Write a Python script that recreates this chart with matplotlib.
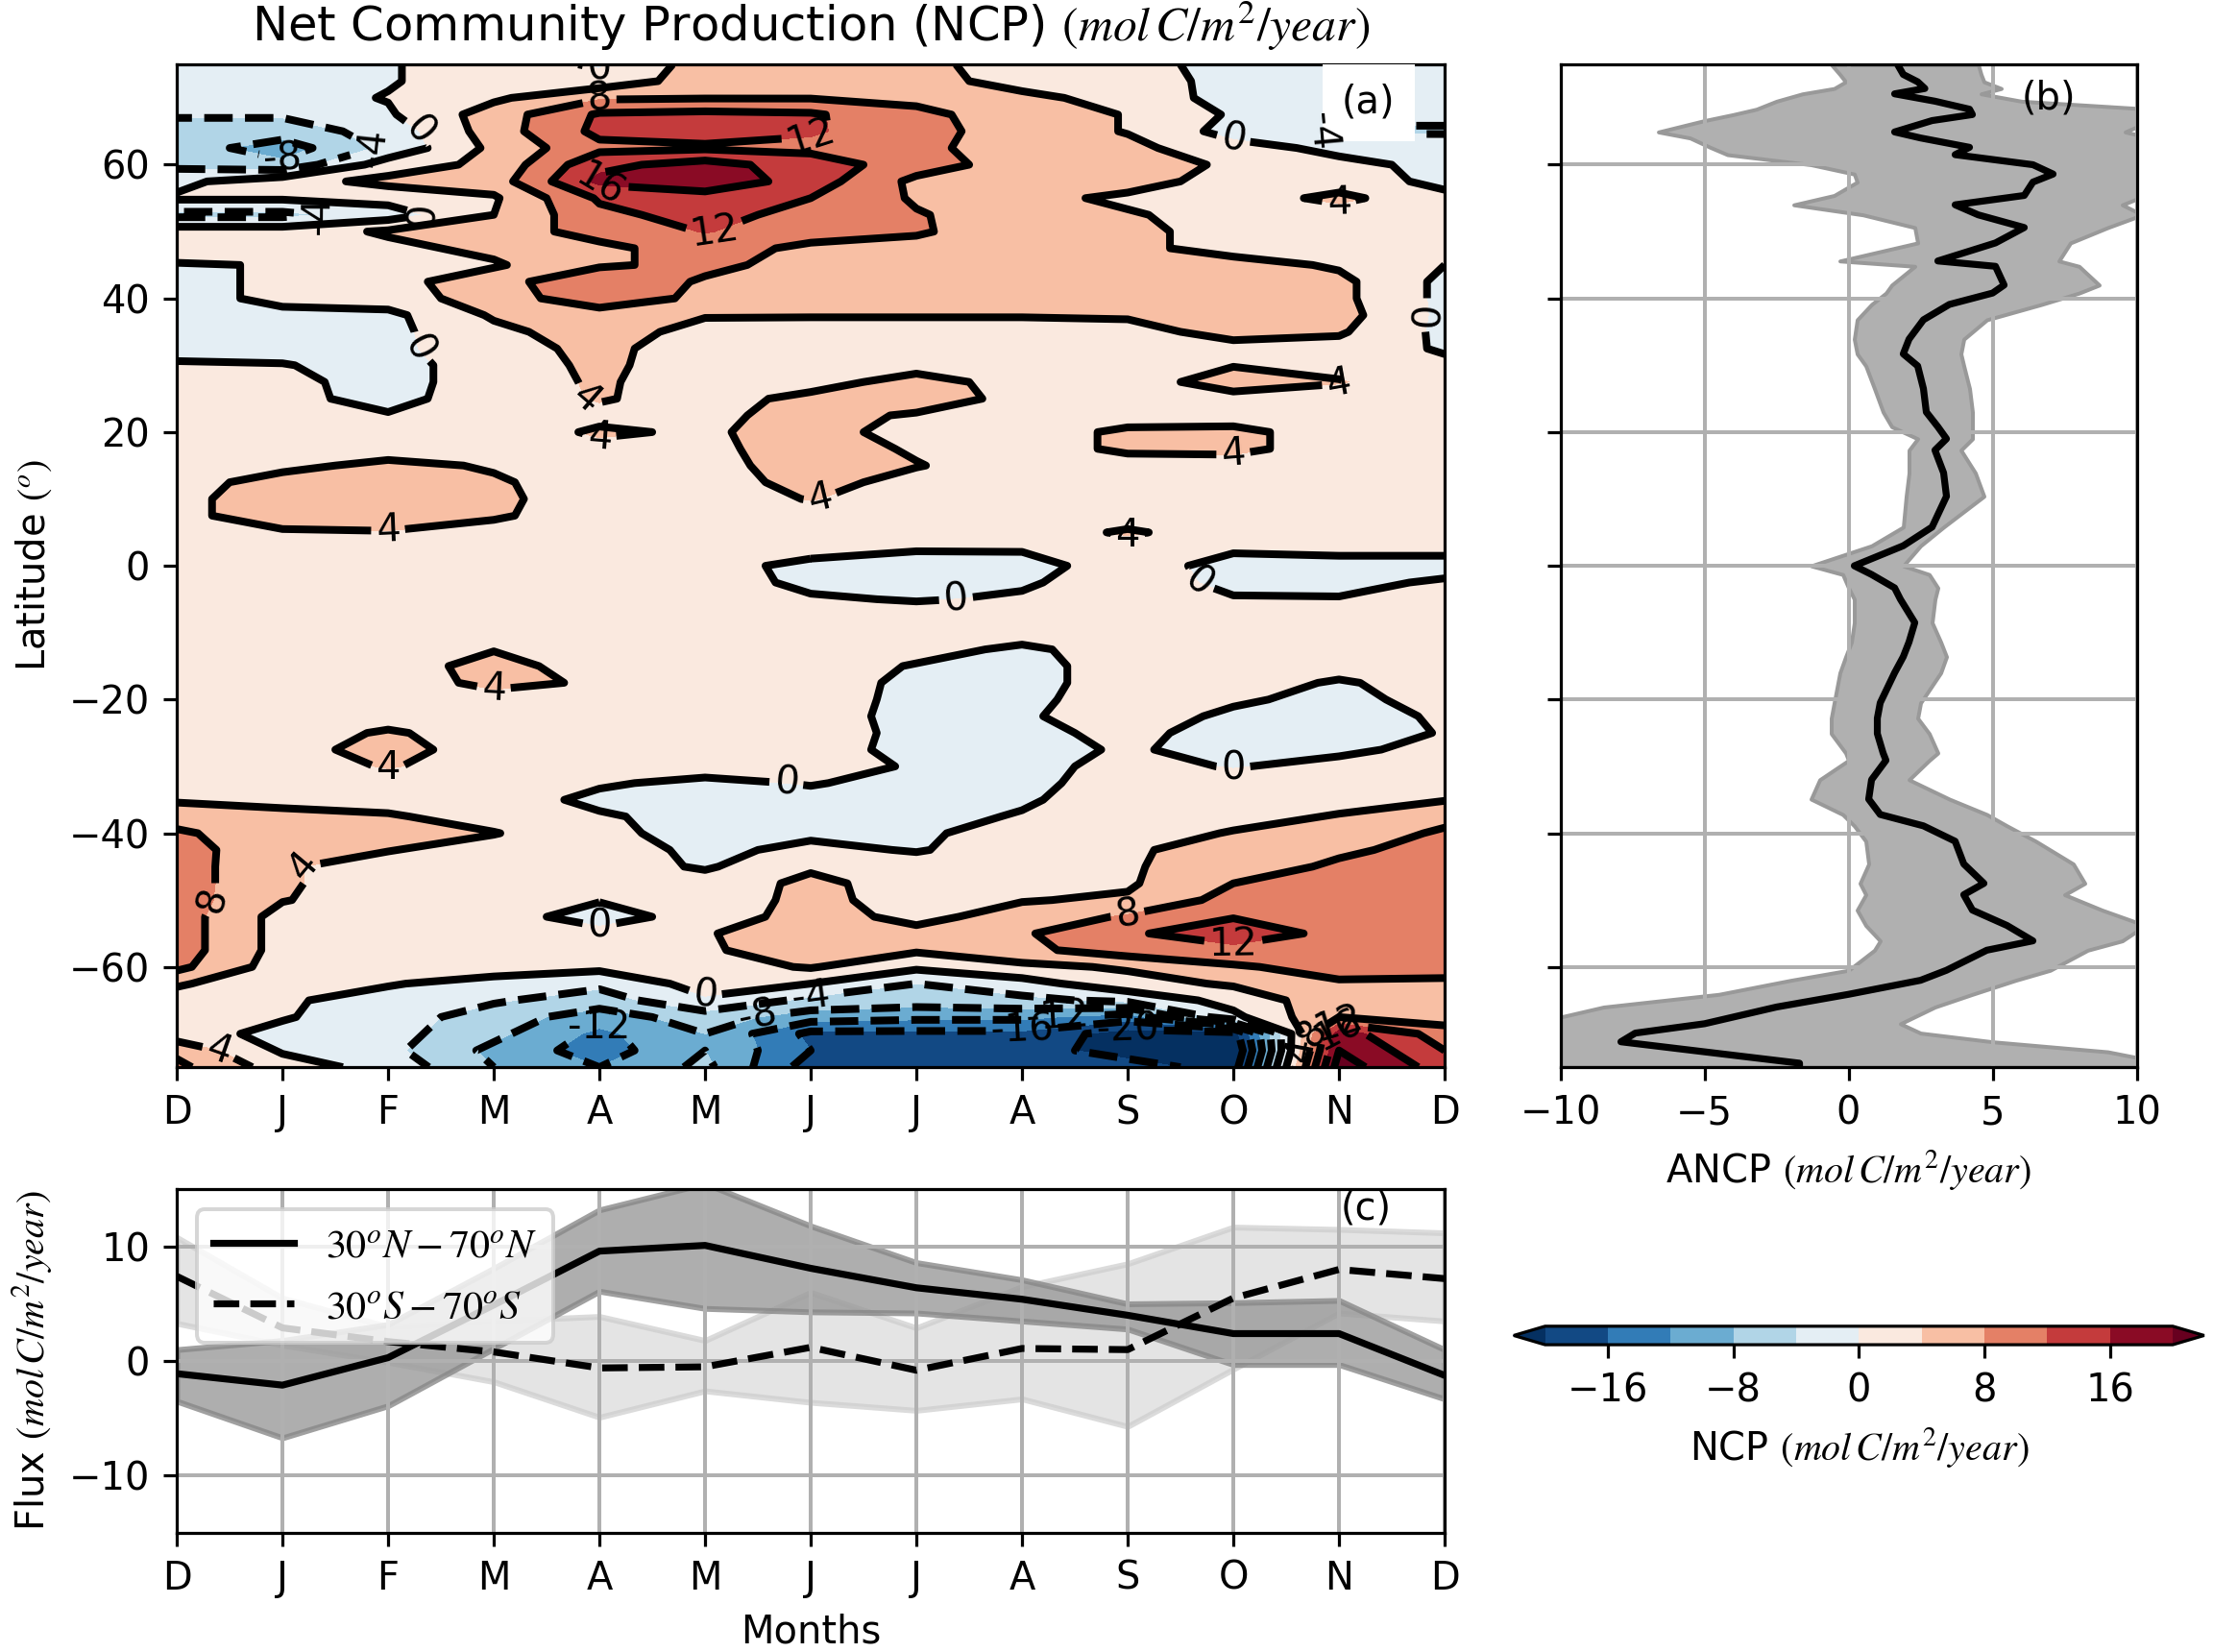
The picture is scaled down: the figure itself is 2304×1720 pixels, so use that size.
import numpy as np
import matplotlib
matplotlib.use("Agg")
import matplotlib.pyplot as plt

plt.rcParams['font.family'] = ['DejaVu Sans']
plt.rcParams['mathtext.fontset'] = 'stix'
plt.rcParams['font.size'] = 10

# ---------------- data ----------------
month_labels = ['D', 'J', 'F', 'M', 'A', 'M', 'J', 'J', 'A', 'S', 'O', 'N', 'D']
months = [0, 1, 2, 3, 4, 5, 6, 7, 8, 9, 10, 11, 12]

# latitude rows of the NCP field (north -> south)
lat_rows = [75, 72.5, 70, 67.5, 65, 62.5, 60, 57.5, 55, 52.5, 50, 47.5, 45, 42.5, 40,
            37.5, 35, 32.5, 30, 27.5, 25, 22.5, 20, 17.5, 15, 12.5, 10, 7.5, 5, 2.5, 0,
            -2.5, -5, -7.5, -10, -12.5, -15, -17.5, -20, -22.5, -25, -27.5, -30, -32.5,
            -35, -37.5, -40, -42.5, -45, -47.5, -50, -52.5, -55, -57.5, -60, -62.5, -65,
            -67.5, -70, -72.5, -75]

# NCP (mol C/m2/year) by month (D J F M A M J J A S O N D) for each latitude row
r_n75_0 = [-2, -2, -0.3, 2, -0.5, 6, 6, 5.2, 2, 1, -1, -1, -1]
r_n72_5 = [-2, -2, -0.3, 2, 1.5, 6, 6, 5.5, 2.5, 1.5, -1, -1, -1]
r_n70_0 = [-2, -1.5, 0.2, 3.3, 7.5, 7.8, 7.8, 7, 5, 2.5, -1.5, -2, -2]
r_n67_5 = [-3.5, -3.5, -0.5, 5.9, 12.5, 13, 12.5, 9, 6, 3.8, -0.5, -3, -3]
r_n65_0 = [-6, -6, -2.5, 6, 13, 13.5, 12.5, 9.5, 6, 3.8, -1.5, -4.5, -4.5]
r_n62_5 = [-6, -10, -3, 5, 11, 11.5, 11, 9, 6, 5, 1.5, -1, -1.5]
r_n60_0 = [-5, -7, 2, 5, 15, 17.5, 14, 10, 6, 5.5, 3.5, 1, -1]
r_n57_5 = [-1, 2.5, 5, 6, 17, 19, 14, 7, 6, 6, 2, 2, -1]
r_n55_0 = [0.5, 0.5, 1.5, 3.5, 12.5, 14, 12, 7.5, 5.5, 3, 2, 5, 1]
r_n52_5 = [-5, -5, -2, 4, 11, 13.5, 10.5, 8.3, 6, 4.5, 2, 2, 1]
r_n50_0 = [2, 2, 4.5, 6, 9.5, 12.2, 10, 8.5, 5.5, 5, 2.5, 2, 0.5]
r_n47_5 = [2, 2.5, 3, 5, 7, 10, 7, 6.5, 6, 5, 2.5, 2.5, 1]
r_n45_0 = [-0.3, 0.2, 0.5, 3.5, 7.5, 9, 6.5, 6, 6, 6, 5.5, 3.5, 0]
r_n42_5 = [-1.5, 1, 2.5, 6.5, 11, 7.5, 6, 6, 6, 6, 6.5, 5, -1]
r_n40_0 = [-1.5, 1, 2, 6, 10.5, 7, 6, 6, 6, 6, 6.5, 5, -1]
r_n37_5 = [-1.5, -1, -1, 4.5, 6, 4.3, 4.3, 4.3, 4.3, 4.5, 6, 5.5, -1]
r_n35_0 = [-1.5, -1.5, -1, 3, 6, 2.5, 2, 2, 2, 2.5, 5.5, 4.5, -1]
r_n32_5 = [-1.5, -1.5, -1, 2.5, 5, 2, 2, 2, 2, 2, 2.5, 2.5, -0.5]
r_n30_0 = [0.5, 0.2, -1.5, 2, 4.8, 2, 2, 2.5, 2, 2, 3.8, 3, 1]
r_n27_5 = [2, 1, -1.5, 2, 4.5, 2, 2.5, 5.5, 2.5, 2, 6, 4.2, 2]
r_n25_0 = [2, 1, -1.2, 2, 4.3, 2.5, 5, 6.5, 2.5, 2, 2.5, 2.5, 2]
r_n22_5 = [2, 1.5, 0.3, 2, 3, 3, 5.5, 3.5, 2, 2, 2.5, 2, 2]
r_n20_0 = [2, 2, 2, 2, 4.5, 3.5, 5.5, 2.5, 2, 4.8, 4.8, 2.5, 2]
r_n17_5 = [2, 2, 2, 2, 3, 3, 6, 3.5, 2, 4.8, 4.8, 2.5, 2]
r_n15_0 = [2, 3, 5, 3.6, 2, 2.5, 6, 4.2, 2, 2, 2.5, 2, 2]
r_n12_5 = [2.5, 5.5, 6, 4.5, 2, 2, 5.5, 2.5, 2, 2, 2, 2, 2]
r_n10_0 = [3, 6, 6.5, 4.8, 2, 2, 4.2, 2, 2, 2, 2, 2, 2]
r_n07_5 = [3, 6, 6, 4.5, 2, 2, 2, 2, 2, 2, 2, 2, 2]
r_n05_0 = [2, 3.5, 3.8, 2.5, 2, 2, 2, 2, 2, 4.5, 2, 2, 2]
r_n02_5 = [2, 2, 2, 2, 2, 2, 2, 0.3, 0.3, 2, 0.5, 1, 1]
r_eq0_0 = [1, 2, 2, 2, 2, 2, -1.5, -2, -1.5, 2, -1.5, -1.5, -1.5]
r_s02_5 = [2, 2, 2, 2, 2, 2, -1, -1.5, -0.5, 2, -1, -1, 0.5]
r_s05_0 = [2, 2, 2, 2, 2, 2, 0.5, -0.3, 0.5, 2, 0.3, 0.2, 2]
r_s07_5 = [2, 2, 2, 2, 2, 2, 2, 2, 2, 2, 2, 2, 2]
r_s10_0 = [2, 2, 2, 2, 2, 2, 2, 2, 2, 2, 2, 2, 2]
r_s12_5 = [2, 2, 2, 3.8, 2, 2, 2, 1.5, -0.8, 2, 2, 2, 2]
r_s15_0 = [2, 2, 2, 5.5, 2, 2, 2, -0.3, -1.5, 2, 2, 2, 2]
r_s17_5 = [2, 2, 2, 5, 3.5, 2, 2, -1, -1.5, 2, 2, -0.5, 2]
r_s20_0 = [2, 2, 2, 2.5, 2, 2, 2, -1.2, -1, 2, 0.6, -1.2, 1.5]
r_s22_5 = [2, 2, 2, 2, 2, 2, 2, -1.5, -0.5, 2, -0.8, -1.5, 0.5]
r_s25_0 = [2, 2, 4.5, 2, 2, 2, 2.5, -1.5, -1, 1, -1.5, -1.5, 0.2]
r_s27_5 = [2, 2.5, 5.5, 2, 2, 2, 2, -1.5, -1.5, 0.5, -1.5, -1, 1.5]
r_s30_0 = [2, 2, 4.3, 2, 2, 2, 2, -0.5, -1.5, 1.5, -0.3, 1.5, 2]
r_s32_5 = [2, 2, 2, 2, 0.5, -1, 0.3, -1.5, -1.2, 2, 2, 2, 2.5]
r_s35_0 = [3.5, 2.5, 2, 2, -1, -1.5, -1.5, -1.5, -0.5, 2, 2, 2.5, 3.8]
r_s37_5 = [6.5, 5.5, 4.5, 2, 0.5, -1.5, -1.5, -1.2, 0.3, 2, 2.5, 4.3, 7]
r_s40_0 = [8.5, 6, 5.5, 4.2, 1, -1.5, -0.8, -0.8, 2, 2, 4.3, 6, 8.5]
r_s42_5 = [9.5, 5.5, 4.2, 2, 2, -1, 1, -0.3, 2, 3.5, 5.5, 7.5, 9]
r_s45_0 = [10, 4.5, 2, 2, 2, -0.5, 3.5, 2, 2, 3.5, 6.5, 8.5, 9.5]
r_s47_5 = [10, 4.5, 2, 2, 2, 2, 4.8, 2.5, 2, 3.5, 8, 9, 9.5]
r_s50_0 = [10, 4.2, 2, 2, 0.3, 2, 5, 2.5, 3.8, 4.5, 9.5, 9.5, 10]
r_s52_5 = [10, 2.5, 2, 2, -2, 2, 5.5, 3, 5.5, 8.5, 11.8, 10, 10]
r_s55_0 = [10, 2.5, 2, 2, 1.5, 3.8, 5.5, 5, 7.5, 11.5, 14, 11, 10]
r_s57_5 = [10, 2.5, 2, 2, 2, 3.5, 6, 4.5, 7, 10, 11, 10, 10]
r_s60_0 = [9, 2, 2, 2, 1, 2.5, 4.3, 0.8, 3, 4.5, 7.5, 9.5, 9]
r_s62_5 = [4.5, 1, 0.3, -1.5, -3, 1.5, 0, -4, -1.5, 2.5, 4.5, 7.5, 7.5]
r_s65_0 = [2, 0.5, -1.5, -3.5, -6, -0.5, -5, -6, -5, -3, 1.5, 6.5, 5]
r_s67_5 = [1.5, 0.3, -2, -6, -10, -6, -10, -11, -11, -14, -1, 8, 6]
r_s70_0 = [1.5, -1, -2.5, -7, -13, -8, -17, -17, -17, -22, -22, 18, 10]
r_s72_5 = [7, -0.5, -3, -9, -14, -8, -16, -19, -18, -22, -24, 20, 12]
r_s75_0 = [9, 2, -1.5, -8, -12, -7, -18, -20, -16, -18, -22, 22, 14]

ncp_levels = [-20, -16, -12, -8, -4, 0, 4, 8, 12, 16, 20]
cbar_ticks = [-16, -8, 0, 8, 16]

# ANCP profile (panel b)
lat_b = [75, 73.5, 72.4, 71.4, 70.6, 69.5, 68.3, 67.5, 66.6, 64.9, 64.0, 62.6, 61.5, 60.0,
         58.6, 57.4, 55.4, 54.0, 52.5, 50.6, 48.3, 45.6, 44.8, 42.0, 40.8, 39.1, 36.8,
         33.9, 31.7, 29.9, 26.5, 23.0, 20.8, 19.0, 17.3, 13.9, 10.4, 5.8, 3.0, 0.0, -1.3,
         -3.3, -5.0, -8.5, -11.4, -13.6, -16.0, -20.5, -22.8, -25.1, -28.0, -29.1, -32.0,
         -34.9, -37.2, -38.9, -41.2, -44.6, -47.5, -49.2, -51.5, -53.8, -56.1, -57.5,
         -60.5, -62.0, -64.1, -66.0, -68.5, -69.9, -71.2, -72.7, -74.4, -75]
ancp_mean = [1.7, 1.9, 2.4, 2.65, 1.6, 3.0, 4.2, 4.3, 2.9, 1.6, 2.5, 4.2, 3.7, 6.4,
             7.1, 6.4, 6.1, 3.7, 4.5, 6.1, 5.1, 3.1, 5.1, 5.4, 5.0, 3.5, 2.6,
             2.1, 1.9, 2.4, 2.6, 2.7, 3.1, 3.4, 3.0, 3.3, 3.4, 2.9, 1.9, 0.2, 0.8,
             1.6, 1.8, 2.3, 2.1, 1.9, 1.6, 1.1, 1.0, 1.0, 1.2, 1.3, 0.8,
             0.7, 1.1, 2.6, 3.7, 4.0, 4.7, 4.0, 4.3, 5.5, 6.4, 4.8,
             3.4, 2.5, 0.0, -2.5, -5.0, -7.4, -7.9, -5.0, -1.7, -1.7]
ancp_low = [-0.6, -0.3, -0.1, -0.5, -1.6, -2.5, -3.2, -4.0, -5.0, -6.6, -5.5, -4.8, -4.2, -1.3,
            0.2, 0.3, -0.5, -1.9, 0.5, 2.3, 2.4, -0.3, 2.3, 1.5, 1.3, 0.8, 0.3,
            0.2, 0.3, 0.6, 0.9, 1.2, 1.5, 2.4, 2.1, 2.1, 2.0, 1.9, 0.8, -1.3, -0.2,
            0.0, 0.2, 0.2, 0.1, -0.1, -0.3, -0.5, -0.6, -0.6, -0.1, 0.0, -1.0,
            -1.3, -0.2, 0.2, 0.6, 0.7, 0.4, 0.6, 0.3, 0.6, 1.1, 0.9,
            0.0, -2.0, -4.5, -8.5, -11, -11, -11, -11, -11, -11]
ancp_up = [4.5, 4.6, 4.7, 5.3, 4.6, 6.0, 10.5, 10.5, 10.5, 9.6, 10.5, 10.5, 10.5, 10.5,
           10.5, 10.5, 10.3, 9.5, 10.2, 9.0, 7.7, 7.3, 8.0, 8.7, 8.0, 6.7, 4.8,
           4.0, 3.9, 4.0, 4.2, 4.3, 4.3, 4.3, 3.9, 4.4, 4.7, 3.3, 2.5, 1.9, 2.8,
           3.1, 3.0, 2.9, 3.2, 3.4, 3.2, 2.5, 2.4, 2.8, 3.1, 2.8, 2.1,
           3.5, 4.8, 5.5, 6.5, 7.8, 8.2, 7.5, 8.8, 10.3, 9.5, 8.3,
           7.0, 5.8, 4.3, 3.0, 1.8, 2.5, 5.0, 9.0, 11, 11]

# Seasonal flux (panel c)
north_mean = [-1.1, -2.1, 0.3, 4.9, 9.6, 10.1, 8.1, 6.4, 5.4, 4.0, 2.4, 2.4, -1.25]
north_low = [-3.5, -6.7, -3.9, 1.1, 6.1, 4.6, 4.3, 4.2, 3.5, 2.8, -0.3, -0.3, -3.3]
north_up = [1.0, 1.8, 3.2, 8.1, 13.2, 15.5, 11.8, 8.6, 7.1, 5.0, 5.1, 5.3, 1.0]
south_mean = [7.4, 2.9, 1.7, 0.8, -0.6, -0.5, 1.2, -0.8, 1.1, 1.0, 5.5, 8.0, 7.2]
south_low = [3.3, 1.4, -0.1, -1.8, -4.9, -2.6, -3.6, -4.3, -3.3, -5.7, -0.7, 4.2, 3.5]
south_up = [10.8, 5.5, 3.0, 3.5, 3.9, 1.8, 6.0, 2.9, 6.5, 8.5, 11.7, 11.5, 11.2]

unit = r'$(mol\,C/m^2/year)$'

# ---------------- figure ----------------
fig = plt.figure(figsize=(8, 1720 / 288), dpi=288)
ax_a = fig.add_axes([0.0799, 0.354, 0.5729, 0.607])
ax_b = fig.add_axes([0.7051, 0.354, 0.2604, 0.607])
ax_c = fig.add_axes([0.0799, 0.0721, 0.5729, 0.208])
cax = fig.add_axes([0.684, 0.186, 0.312, 0.0112])

rows = [r_n75_0, r_n72_5, r_n70_0, r_n67_5, r_n65_0, r_n62_5, r_n60_0, r_n57_5, r_n55_0,
        r_n52_5, r_n50_0, r_n47_5, r_n45_0, r_n42_5, r_n40_0, r_n37_5, r_n35_0, r_n32_5,
        r_n30_0, r_n27_5, r_n25_0, r_n22_5, r_n20_0, r_n17_5, r_n15_0, r_n12_5, r_n10_0,
        r_n07_5, r_n05_0, r_n02_5, r_eq0_0, r_s02_5, r_s05_0, r_s07_5, r_s10_0, r_s12_5,
        r_s15_0, r_s17_5, r_s20_0, r_s22_5, r_s25_0, r_s27_5, r_s30_0, r_s32_5, r_s35_0,
        r_s37_5, r_s40_0, r_s42_5, r_s45_0, r_s47_5, r_s50_0, r_s52_5, r_s55_0, r_s57_5,
        r_s60_0, r_s62_5, r_s65_0, r_s67_5, r_s70_0, r_s72_5, r_s75_0]
Z = np.array(rows, dtype=float)
lats = np.array(lat_rows, dtype=float)

# panel (a)
cf = ax_a.contourf(months, lats, Z, levels=ncp_levels, cmap='RdBu_r', extend='both')
cl = ax_a.contour(months, lats, Z, levels=ncp_levels, colors='k', linewidths=2.0)
ax_a.clabel(cl, fmt='%d', fontsize=10, inline=True)
ax_a.set_xlim(0, 12)
ax_a.set_ylim(-75, 75)
ax_a.set_xticks(months)
ax_a.set_xticklabels(month_labels)
ax_a.set_yticks([-60, -40, -20, 0, 20, 40, 60])
ax_a.set_ylabel(r'Latitude $(^o)$')
ax_a.set_title('Net Community Production (NCP) ' + unit, fontsize=12.4)
ax_a.text(0.94, 0.962, '(a)', transform=ax_a.transAxes, ha='center', va='center',
          fontsize=10, bbox=dict(facecolor='white', edgecolor='none', pad=5))

# panel (b)
ax_b.fill_betweenx(lat_b, ancp_low, ancp_up, facecolor='#b0b0b0', edgecolor='#999999', lw=1)
ax_b.plot(ancp_mean, lat_b, color='k', lw=1.8)
ax_b.set_xlim(-10, 10)
ax_b.set_ylim(-75, 75)
ax_b.set_xticks([-10, -5, 0, 5, 10])
ax_b.set_yticks([-60, -40, -20, 0, 20, 40, 60])
ax_b.tick_params(labelleft=False)
ax_b.grid(True, color='#b0b0b0', lw=1)
ax_b.set_xlabel('ANCP ' + unit)
ax_b.text(0.848, 0.966, '(b)', transform=ax_b.transAxes, ha='center', va='center', fontsize=10)

# colorbar
cb = fig.colorbar(cf, cax=cax, orientation='horizontal', ticks=cbar_ticks)
cb.set_label('NCP ' + unit, fontsize=10)

# panel (c)
ax_c.fill_between(months, south_low, south_up, facecolor='#d9d9d9', edgecolor='#cccccc',
                  lw=1.5, alpha=0.7)
ax_c.fill_between(months, north_low, north_up, facecolor='#9a9a9a', edgecolor='#888888',
                  lw=1.5, alpha=0.8)
ax_c.plot(months, north_mean, color='k', lw=1.8, label=r'$30^oN - 70^oN$')
ax_c.plot(months, south_mean, color='k', lw=1.8, ls='--', label=r'$30^oS - 70^oS$')
ax_c.set_xlim(0, 12)
ax_c.set_ylim(-15, 15)
ax_c.set_xticks(months)
ax_c.set_xticklabels(month_labels)
ax_c.set_yticks([-10, 0, 10])
ax_c.grid(True, color='#b0b0b0', lw=1)
ax_c.set_xlabel('Months')
ax_c.set_ylabel('Flux ' + unit)
ax_c.legend(loc='upper left', fontsize=10.5)
ax_c.text(0.938, 0.943, '(c)', transform=ax_c.transAxes, ha='center', va='center', fontsize=10)

fig.savefig('out.png', dpi=288)
